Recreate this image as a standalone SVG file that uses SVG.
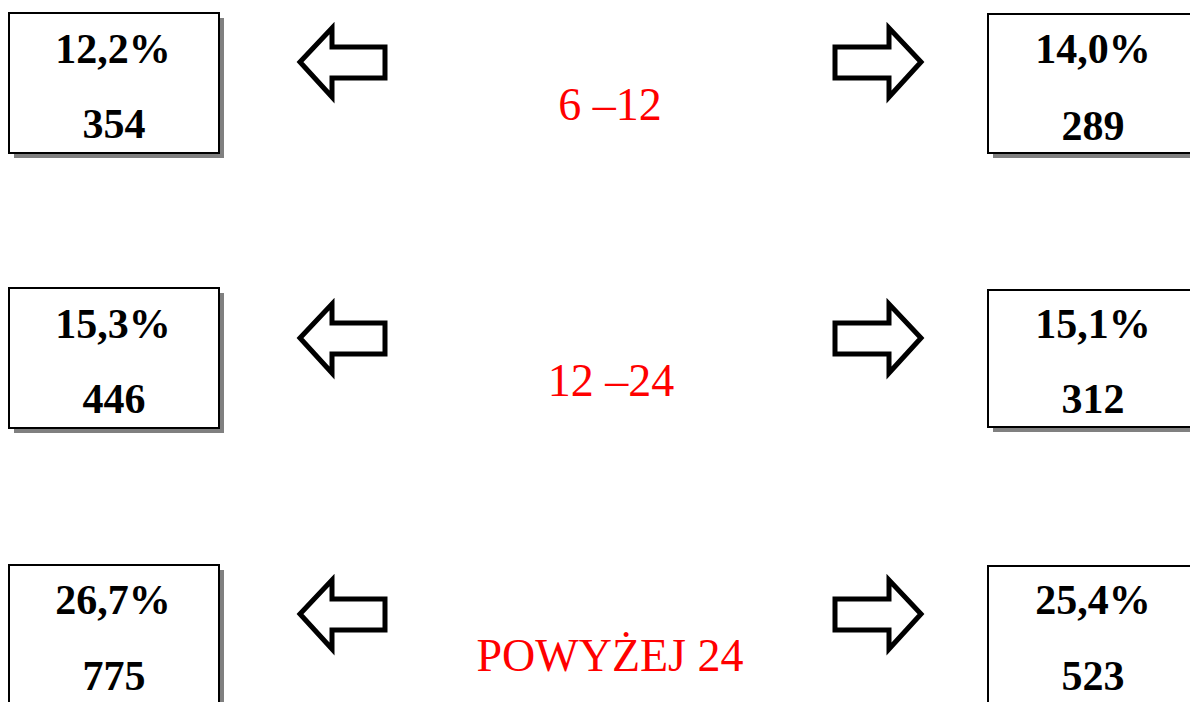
<svg xmlns="http://www.w3.org/2000/svg" width="1190" height="702" viewBox="0 0 1190 702">
<style>
.shadow{fill:#808080}
.box{fill:#fff;stroke:#000;stroke-width:2}
.num{font-family:"Liberation Serif","Times New Roman",serif;font-weight:bold;font-size:42px;fill:#000;text-anchor:middle}
.lbl{font-family:"Liberation Serif","Times New Roman",serif;font-size:46px;fill:#FF0000;text-anchor:middle}
.arr{fill:#fff;stroke:#000;stroke-width:5;stroke-linejoin:miter;stroke-miterlimit:10}
</style>
<defs>
<polygon id="la" points="300,62 332,28 332,47 385,47 385,78 332,78 332,97"/>
<polygon id="ra" points="921,62 889,28 889,47 835,47 835,78 889,78 889,97"/>
</defs>
<rect width="1190" height="702" fill="#fff"/>
<g id="left1"><rect class="shadow" x="14" y="18" width="210" height="140"/><rect class="box" x="9" y="13" width="210" height="140"/><text class="num" x="113" y="63">12,2%</text><text class="num" x="114" y="138">354</text></g>
<g id="right1"><rect class="shadow" x="993" y="19" width="210" height="139"/><rect class="box" x="988" y="14" width="210" height="139"/><text class="num" x="1093" y="63">14,0%</text><text class="num" x="1093" y="140">289</text></g>
<g id="label1"><text class="lbl" x="610" y="120">6 –12</text></g>
<g id="left2"><rect class="shadow" x="14" y="293" width="210" height="140"/><rect class="box" x="9" y="288" width="210" height="140"/><text class="num" x="113" y="338">15,3%</text><text class="num" x="114" y="413">446</text></g>
<g id="right2"><rect class="shadow" x="993" y="295" width="210" height="137"/><rect class="box" x="988" y="290" width="210" height="137"/><text class="num" x="1093" y="338">15,1%</text><text class="num" x="1093" y="413">312</text></g>
<g id="label2"><text class="lbl" x="611" y="396">12 –24</text></g>
<g id="left3"><rect class="shadow" x="14" y="570" width="210" height="140"/><rect class="box" x="9" y="565" width="210" height="140"/><text class="num" x="113" y="614">26,7%</text><text class="num" x="114" y="690">775</text></g>
<g id="right3"><rect class="shadow" x="993" y="571" width="210" height="140"/><rect class="box" x="988" y="566" width="210" height="140"/><text class="num" x="1093" y="614">25,4%</text><text class="num" x="1093" y="690">523</text></g>
<g id="label3"><text class="lbl" x="610" y="671">POWYŻEJ 24</text></g>
<g id="connectors">
<use href="#la" class="arr"/>
<use href="#ra" class="arr"/>
<use href="#la" class="arr" transform="translate(0,276)"/>
<use href="#ra" class="arr" transform="translate(0,276)"/>
<use href="#la" class="arr" transform="translate(0,552)"/>
<use href="#ra" class="arr" transform="translate(0,552)"/>
</g>
</svg>
